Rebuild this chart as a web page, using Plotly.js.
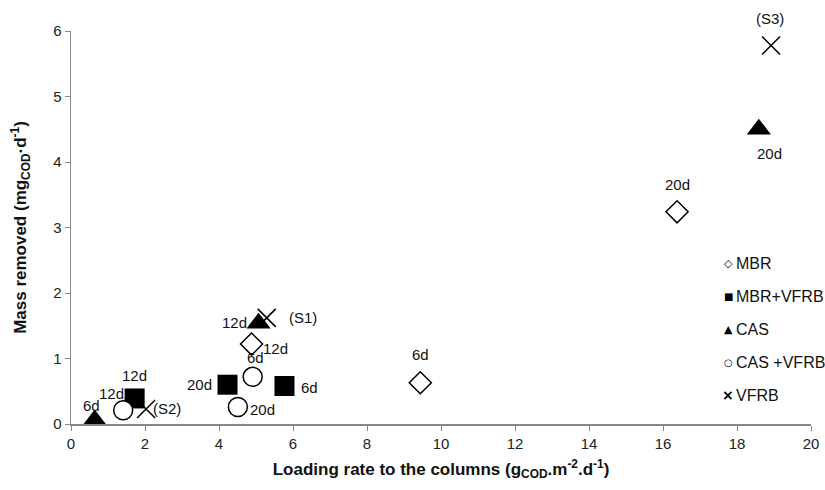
<!DOCTYPE html>
<html><head><meta charset="utf-8">
<script src="https://cdn.plot.ly/plotly-3.0.1.min.js"></script>
<style>html,body{margin:0;padding:0;background:#fff}</style>
</head><body>
<div id="chart" style="width:825px;height:490px"></div>
<script>
// Data
var mbrX = [4.88, 9.44, 16.38];
var mbrY = [1.22, 0.63, 3.24];
var mbrT = ["12d", "6d", "20d"];
var mbrvX = [1.72, 4.23, 5.77];
var mbrvY = [0.39, 0.60, 0.58];
var mbrvT = ["12d", "20d", "6d"];
var casX = [0.64, 5.07, 18.59];
var casY = [0.06, 1.54, 4.50];
var casT = ["6d", "12d", "20d"];
var casvX = [1.41, 4.91, 4.51];
var casvY = [0.21, 0.72, 0.26];
var casvT = ["12d", "6d", "20d"];
var vfrbX = [2.03, 5.29, 18.92];
var vfrbY = [0.23, 1.62, 5.78];
var vfrbT = ["(S2)", "(S1)", "(S3)"];
var seriesNames = ["MBR", "MBR+VFRB", "CAS", "CAS +VFRB", "VFRB"];
var legendGlyphs = ["◇", "■", "▲", "○", "×"];

var font = "Liberation Sans, Arial, sans-serif";

// label offsets in pixels (style only)
var offsets = [
  [[24, 4], [0, -28], [0, -27]],
  [[0, -23], [-28, 0], [25, 1]],
  [[-3, -15], [-24, -1], [11, 24]],
  [[-12, -17], [3, -19], [25, 3]],
  [[21, 0], [36, 0], [-1, -27]]
];
var groups = [
  [mbrX, mbrY, mbrT], [mbrvX, mbrvY, mbrvT], [casX, casY, casT],
  [casvX, casvY, casvT], [vfrbX, vfrbY, vfrbT]
];
var markers = [
  {symbol: "diamond", size: 17, color: "#fff", line: {color: "#000", width: 1.5}},
  {symbol: "square", size: 20, color: "#000", line: {color: "#000", width: 0}},
  {symbol: "triangle-up", size: 21, color: "#000", line: {color: "#000", width: 0}},
  {symbol: "circle", size: 19, color: "#fff", line: {color: "#000", width: 1.5}},
  {symbol: "x-thin-open", size: 18, color: "#000", line: {color: "#000", width: 1.5}}
];
var glyphStyle = [
  {size: 11, bold: true}, {size: 10}, {size: 11}, {size: 10, bold: true}, {size: 14, bold: true}
];

var traces = [];
var annotations = [];
groups.forEach(function(g, i){
  traces.push({type: "scatter", x: g[0], y: g[1], mode: "markers", name: seriesNames[i],
    marker: markers[i], showlegend: false, cliponaxis: false, hoverinfo: "none"});
  g[2].forEach(function(t, j){
    annotations.push({x: g[0][j], y: g[1][j], xref: "x", yref: "y", text: t, showarrow: false,
      xshift: offsets[i][j][0], yshift: -offsets[i][j][1],
      font: {family: font, size: 15, color: "#111"}});
  });
});

// hand-drawn legend (text annotations)
var legX = (728 - 71) / 740, legY = (424 - 263) / 393, legStep = 33;
seriesNames.forEach(function(n, i){
  var gs = glyphStyle[i];
  annotations.push({xref: "paper", yref: "paper", x: legX, y: legY, yshift: -legStep * i,
    text: gs.bold ? "<b>" + legendGlyphs[i] + "</b>" : legendGlyphs[i], showarrow: false,
    xanchor: "center", yanchor: "middle",
    font: {family: "DejaVu Sans, sans-serif", size: gs.size, color: "#000"}});
  annotations.push({xref: "paper", yref: "paper", x: legX, xshift: 6, y: legY, yshift: -legStep * i,
    text: n, showarrow: false, xanchor: "left", yanchor: "middle",
    font: {family: font, size: 16, color: "#111"}});
});

var layout = {
  width: 825, height: 490,
  margin: {l: 71, r: 14, t: 31, b: 66},
  paper_bgcolor: "#fff", plot_bgcolor: "#fff",
  font: {family: font, size: 15, color: "#111"},
  annotations: annotations,
  showlegend: false,
  xaxis: {range: [0, 20], dtick: 2, showline: true, linecolor: "#888", linewidth: 1.5,
    ticks: "outside", ticklen: 5, tickcolor: "#888", showgrid: false, zeroline: false,
    tickfont: {family: font, size: 15, color: "#222"},
    title: {text: "<b>Loading rate to the columns (g<sub>COD</sub>.m<sup>-2</sup>.d<sup>-1</sup>)</b>",
      font: {family: font, size: 17, color: "#111"}, standoff: 12}},
  yaxis: {range: [0, 6], dtick: 1, showline: true, linecolor: "#888", linewidth: 1.5,
    ticks: "outside", ticklen: 5, tickcolor: "#888", showgrid: false, zeroline: false,
    tickfont: {family: font, size: 15, color: "#222"},
    title: {text: "<b>Mass removed (mg<sub>COD</sub>·d<sup>-1</sup>)</b>",
      font: {family: font, size: 17, color: "#111"}, standoff: 22}}
};
Plotly.newPlot("chart", traces, layout, {displayModeBar: false, staticPlot: true});
</script>
</body></html>
